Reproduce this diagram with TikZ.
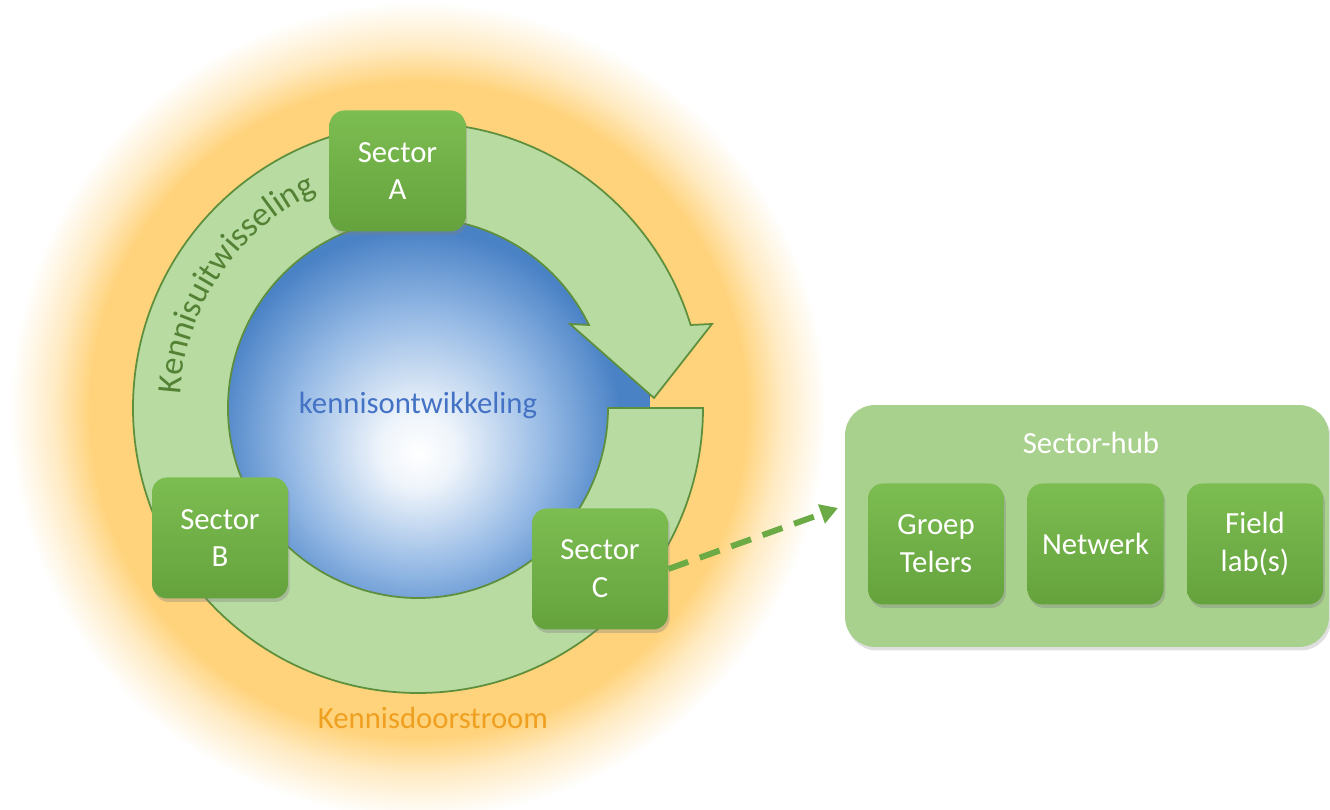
\documentclass[tikz,border=0pt]{standalone}
\usepackage{fontspec}
\setmainfont{Carlito}
\usetikzlibrary{positioning,shadows,decorations.text,arrows.meta}

\definecolor{glowcore}{HTML}{FFD37C}
\definecolor{glowsoft}{HTML}{FFEBC4}
\definecolor{ringfill}{HTML}{B8DBA2}
\definecolor{ringedge}{HTML}{5E8F3C}
\definecolor{ringtext}{HTML}{548235}
\definecolor{secttop}{HTML}{7CBD51}
\definecolor{sectbot}{HTML}{65A23D}
\definecolor{sphedge}{HTML}{4A82C6}
\definecolor{sphmid}{HTML}{93B8E4}
\definecolor{sphtext}{HTML}{4472C4}
\definecolor{flowtext}{HTML}{F0A020}
\definecolor{hubfill}{HTML}{A9D18E}
\definecolor{linkgreen}{HTML}{6BAA44}

% glow: 25bp = 1000px, so the edge of the fill lies off the page
\pgfdeclareradialshading{glowshade}{\pgfpointorigin}{color(0bp)=(glowcore); color(8.2bp)=(glowcore); color(9.1bp)=(glowsoft); color(10.2bp)=(white); color(50bp)=(white)}
\pgfdeclareradialshading{sphereshade}{\pgfpoint{0bp}{-5bp}}{color(0bp)=(white); color(4bp)=(white!85!sphmid); color(14bp)=(sphmid); color(22bp)=(sphedge); color(50bp)=(sphedge)}

\newcommand{\boxfont}{\fontsize{17.5}{21.5}\selectfont}
\newcommand{\ringfont}{\fontsize{19.5}{22}\selectfont\color{ringtext}}

\tikzset{
  sectorbox/.style={rounded corners=0.3cm, minimum width=2.72cm, minimum height=2.42cm,
    top color=secttop, bottom color=sectbot, text=white, align=center, font=\boxfont,
    drop shadow={shadow xshift=1pt, shadow yshift=-2pt, opacity=0.35}},
  hubbox/.style={rounded corners=0.6cm, minimum width=9.68cm, minimum height=4.84cm,
    fill=hubfill, drop shadow={shadow xshift=1pt, shadow yshift=-2pt, opacity=0.25}},
  ringarrow/.style={fill=ringfill, draw=ringedge, line width=1pt},
  link/.style={linkgreen, line width=3.4pt, dash pattern=on 12pt off 7pt,
    -{Triangle[length=10pt,width=11pt]}}
}

\begin{document}
\begin{tikzpicture}[x=0.02cm, y=0.02cm]
  \useasboundingbox (0,0) rectangle (1330,810);

  % Draw the glow and the sphere
  \fill[shading=glowshade] (-582,-600) rectangle (1418,1400);
  \fill[shading=sphereshade] (418,402) circle[radius=232];

  % Draw the ring arrow
  \begin{scope}[shift={(418,402)}]
    \filldraw[ringarrow] (0:285) arc[start angle=0, end angle=-343.07, radius=285]
      -- (294,84) -- (236,10) -- (152,84) -- (25.9:190)
      arc[start angle=25.9, end angle=360, radius=190] -- cycle;
    \path[decorate, decoration={text along path, text align=center,
      text={|\ringfont|Kennisuitwisseling}}]
      (186:238) arc[start angle=186, end angle=106, radius=238];
  \end{scope}

  \node[text=sphtext, font=\boxfont] (core) at (418,405) {kennisontwikkeling};
  \node[text=flowtext, font=\boxfont] (flow) at (433,92) {Kennisdoorstroom};

  % Draw the sectors
  \node[sectorbox] (secA) at (397.5,639) {Sector\\A};
  \node[sectorbox] (secB) at (220,272) {Sector\\B};
  \node[sectorbox] (secC) at (600,241) {Sector\\C};

  % Draw the hub
  \node[hubbox] (hub) at (1087,284) {};
  \node[text=white, font=\boxfont] (hubtitle) at (1091,367) {Sector-hub};
  \node[sectorbox] (grp) at (936,266) {Groep\\Telers};
  \node[sectorbox, right=13pt of grp] (net) {Netwerk};
  \node[sectorbox, right=13pt of net] (lab) {Field\\lab(s)};

  \coordinate (hubin) at (838,302);
  \draw[link] (secC.east) -- (hubin);
\end{tikzpicture}
\end{document}
